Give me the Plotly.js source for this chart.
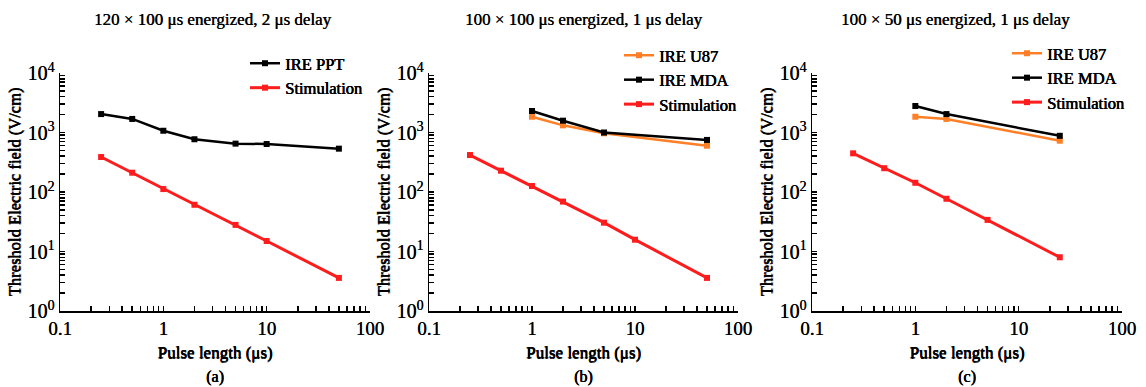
<!DOCTYPE html>
<html><head><meta charset="utf-8">
<script src="https://cdn.plot.ly/plotly-3.0.1.min.js"></script>
<style>body{margin:0;background:#fff}#chart{width:1146px;height:387px}</style>
</head><body><div id="chart"></div>
<script>
// Panel (a)
const xA = [0.25, 0.5, 1, 2, 5, 10, 50];
const ppt_A = [2040, 1690, 1070, 770, 650, 640, 535];
const stim_A = [387, 211, 112, 61, 28, 15, 3.6];
// Panel (b)
const xB_ire = [1, 2, 5, 50];
const u87_B = [1840, 1320, 970, 600];
const mda_B = [2300, 1580, 1000, 750];
const xB_stim = [0.25, 0.5, 1, 2, 5, 10, 50];
const stim_B = [418, 228, 126, 69, 30.5, 15.8, 3.6];
// Panel (c)
const xC_ire = [1, 2, 25];
const u87_C = [1840, 1690, 728];
const mda_C = [2790, 2040, 880];
const xC_stim = [0.25, 0.5, 1, 2, 5, 25];
const stim_C = [447, 251, 143, 77, 34, 8];

const titles = ["120 × 100 μs energized, 2 μs delay", "100 × 100 μs energized, 1 μs delay", "100 × 50 μs energized, 1 μs delay"];
const panelLabels = ["(a)", "(b)", "(c)"];
const xTickVals = [0.1, 1, 10, 100];
const xTickText = ["0.1", "1", "10", "100"];
const yTickVals = [1, 10, 100, 1000, 10000];
const yTickText = ["10<sup>0</sup>", "10<sup>1</sup>", "10<sup>2</sup>", "10<sup>3</sup>", "10<sup>4</sup>"];

// labelled decade ticks plus unlabelled 2..9 ticks in each decade
function allTicks(vals, texts) {
  const v = [], t = [];
  for (let i = 0; i < vals.length; i++) {
    v.push(vals[i]); t.push(texts[i]);
    if (i < vals.length - 1) for (let k = 2; k <= 9; k++) { v.push(k * vals[i]); t.push(""); }
  }
  return {v: v, t: t};
}
const xT = allTicks(xTickVals, xTickText);
const yT = allTicks(yTickVals, yTickText);

const RED = "#ff1c1c", ORANGE = "#ff7f27", BLACK = "#000000";
const FONT = "Liberation Serif";
const SH = "0.5px 0 0 #000, 0.25px 0.2px 0 #000";

function tr(x, y, name, color, axis, legend, w) {
  return {x: x, y: y, name: name, type: "scatter", mode: "lines+markers",
    line: {color: color, width: w || 2.5}, marker: {symbol: "square", size: 6, color: color},
    xaxis: "x" + axis, yaxis: "y" + axis, legend: legend};
}
const data = [
  tr(xA, ppt_A, "IRE PPT", BLACK, "", "legend"),
  tr(xA, stim_A, "Stimulation", RED, "", "legend", 3),
  tr(xB_ire, u87_B, "IRE U87", ORANGE, "2", "legend2"),
  tr(xB_ire, mda_B, "IRE MDA", BLACK, "2", "legend2"),
  tr(xB_stim, stim_B, "Stimulation", RED, "2", "legend2", 3),
  tr(xC_ire, u87_C, "IRE U87", ORANGE, "3", "legend3"),
  tr(xC_ire, mda_C, "IRE MDA", BLACK, "3", "legend3"),
  tr(xC_stim, stim_C, "Stimulation", RED, "3", "legend3", 3)
];

const W = 1146, H = 387;
const xDomains = [[60/W, 370/W], [429/W, 738/W], [812/W, 1122/W]];
const yDom = [(H-311)/H, (H-73)/H];
const bfont = (s) => ({family: FONT, size: s, color: "#000", shadow: SH});
const tfont = (s) => ({family: FONT, size: s, color: "#000", shadow: "0.3px 0 0 #000"});

function xax(dom, anchor) {
  return {type: "log", domain: dom, anchor: anchor, range: [-1, 2],
    tickmode: "array", tickvals: xT.v, ticktext: xT.t, ticks: "inside", ticklen: 5, tickwidth: 1.5, tickcolor: "#000",
    showline: true, linecolor: "#000", linewidth: 1.5, showgrid: false, zeroline: false,
    tickfont: tfont(19),
    title: {text: "Pulse length (μs)", font: bfont(17), standoff: 8}};
}
function yax(anchor) {
  return {type: "log", domain: yDom, anchor: anchor, range: [0, 4],
    tickmode: "array", tickvals: yT.v, ticktext: yT.t, ticks: "inside", ticklen: 5, tickwidth: 1.5, tickcolor: "#000",
    showline: true, linecolor: "#000", linewidth: 1.5, showgrid: false, zeroline: false,
    tickfont: tfont(20),
    title: {text: "Threshold Electric field (V/cm)", font: bfont(16.5), standoff: 2}};
}
function leg(x, y) {
  return {x: x, y: y, xanchor: "left", yanchor: "top", bgcolor: "rgba(0,0,0,0)",
    font: bfont(16.5), tracegroupgap: 0, itemwidth: 30};
}

const annotations = [];
const centers = [213, 584, 955];
for (let i = 0; i < 3; i++) {
  annotations.push({text: titles[i], x: centers[i]/W, y: (H-19)/H, xref: "paper", yref: "paper",
    showarrow: false, xanchor: "center", yanchor: "middle", font: {family: FONT, size: 17, color: "#000", shadow: "0.3px 0 0 #000"}});
  annotations.push({text: panelLabels[i], x: ((xDomains[i][0]+xDomains[i][1])/2), y: (H-377)/H, xref: "paper", yref: "paper",
    showarrow: false, xanchor: "center", yanchor: "middle", font: bfont(16)});
}

const layout = {
  width: W, height: H, margin: {l: 0, r: 0, t: 0, b: 0},
  paper_bgcolor: "#fff", plot_bgcolor: "#fff", showlegend: true,
  xaxis: xax(xDomains[0], "y"), yaxis: yax("x"),
  xaxis2: xax(xDomains[1], "y2"), yaxis2: yax("x2"),
  xaxis3: xax(xDomains[2], "y3"), yaxis3: yax("x3"),
  legend: leg(245/W, (H-46)/H),
  legend2: leg(619/W, (H-38)/H),
  legend3: leg(1007/W, (H-36)/H),
  annotations: annotations
};
Plotly.newPlot("chart", data, layout, {staticPlot: true});
</script></body></html>
